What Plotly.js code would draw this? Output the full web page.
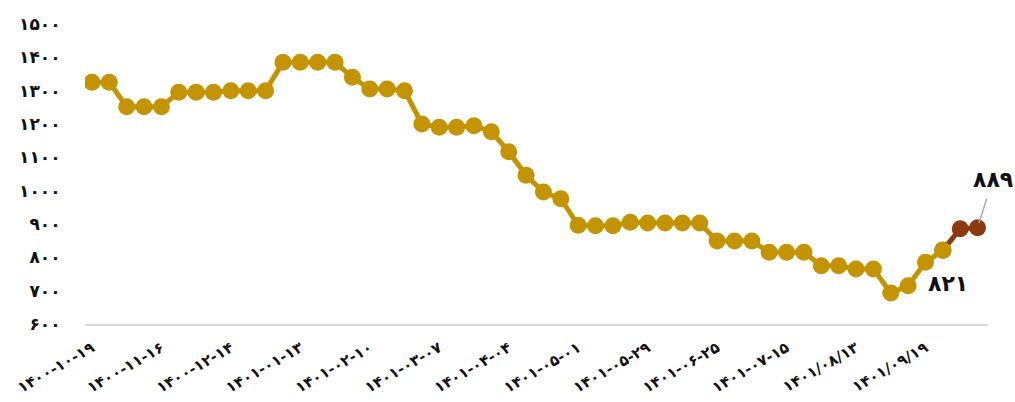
<!DOCTYPE html>
<html>
<head>
<meta charset="utf-8">
<script src="https://cdn.plot.ly/plotly-3.0.1.min.js"></script>
<style>html,body{margin:0;padding:0;background:#fff;}#chart{width:1015px;height:402px;}</style>
</head>
<body>
<div id="chart"></div>
<script>
// Weekly price series (index positions 0..51)
const prices = [1325, 1325, 1252, 1252, 1252, 1295, 1295, 1295, 1300, 1300, 1300,
  1385, 1385, 1385, 1385, 1340, 1305, 1305, 1300, 1200, 1190, 1190, 1195, 1177,
  1117, 1046, 996, 976, 896, 895, 895, 905, 903, 903, 903, 903, 849, 849, 849,
  815, 815, 815, 775, 775, 765, 765, 693, 715, 785, 821, 886, 889];
// Last segment highlighted in brown (from index 49)
const highlightStart = 49;
// Tick labels every 4th point
const tickPositions = [0, 4, 8, 12, 16, 20, 24, 28, 32, 36, 40, 44, 48];
const tickLabels = ["۱۴۰۰-۱۰-۱۹", "۱۴۰۰-۱۱-۱۶", "۱۴۰۰-۱۲-۱۴", "۱۴۰۱-۰۱-۱۳", "۱۴۰۱-۰۲-۱۰",
  "۱۴۰۱-۰۳-۰۷", "۱۴۰۱-۰۴-۰۴", "۱۴۰۱-۰۵-۰۱", "۱۴۰۱-۰۵-۲۹", "۱۴۰۱-۰۶-۲۵",
  "۱۴۰۱-۰۷-۱۵", "۱۴۰۱/۰۸/۱۳", "۱۴۰۱/۰۹/۱۹"];
const yTicks = [600, 700, 800, 900, 1000, 1100, 1200, 1300, 1400, 1500];

const fa = n => String(n).replace(/\d/g, d => "۰۱۲۳۴۵۶۷۸۹"[d]);

const idx = prices.map((_, i) => i);
const gold = "#C49300", brown = "#8B3A0F";
const FONT = "DejaVu Sans";

const brownTrace = {
  x: idx.slice(highlightStart), y: prices.slice(highlightStart),
  mode: "lines+markers", type: "scatter",
  line: {color: brown, width: 5}, marker: {color: brown, size: 17},
  hoverinfo: "skip"
};
const goldTrace = {
  x: idx.slice(0, highlightStart + 1), y: prices.slice(0, highlightStart + 1),
  mode: "lines+markers", type: "scatter",
  line: {color: gold, width: 5}, marker: {color: gold, size: 17},
  hoverinfo: "skip"
};

const last = prices.length - 1;
const layout = {
  width: 1015, height: 402,
  margin: {l: 85, r: 27, t: 24, b: 78},
  paper_bgcolor: "#fff", plot_bgcolor: "#fff",
  showlegend: false,
  font: {family: FONT, color: "#111"},
  xaxis: {
    range: [-0.4, 51.6], showgrid: false, zeroline: false,
    showline: true, linecolor: "#d9d9d9", linewidth: 1.5,
    tickmode: "array", tickvals: tickPositions, ticktext: tickLabels,
    tickangle: -30, ticks: "outside", ticklen: 8, tickcolor: "rgba(0,0,0,0)",
    tickfont: {family: FONT, size: 15, color: "#111", weight: "bold"}
  },
  yaxis: {
    range: [600, 1500], showgrid: false, zeroline: false, showline: false,
    tickmode: "array", tickvals: yTicks, ticktext: yTicks.map(fa),
    ticks: "outside", ticklen: 20, tickcolor: "rgba(0,0,0,0)",
    tickfont: {family: FONT, size: 17, color: "#111", weight: "bold"}
  },
  annotations: [
    {x: last, y: prices[last], text: fa(prices[last]), showarrow: true,
     arrowhead: 0, arrowwidth: 1.5, arrowcolor: "#aaaaaa", ax: 15, ay: -48,
     standoff: 5, borderpad: 6,
     font: {family: FONT, size: 22, color: "#111", weight: "bold"}},
    {x: highlightStart, y: prices[highlightStart], text: fa(prices[highlightStart]),
     showarrow: false, xshift: 5, yshift: -33,
     font: {family: FONT, size: 22, color: "#111", weight: "bold"}}
  ]
};

Plotly.newPlot("chart", [brownTrace, goldTrace], layout, {displayModeBar: false, staticPlot: true});
</script>
</body>
</html>
